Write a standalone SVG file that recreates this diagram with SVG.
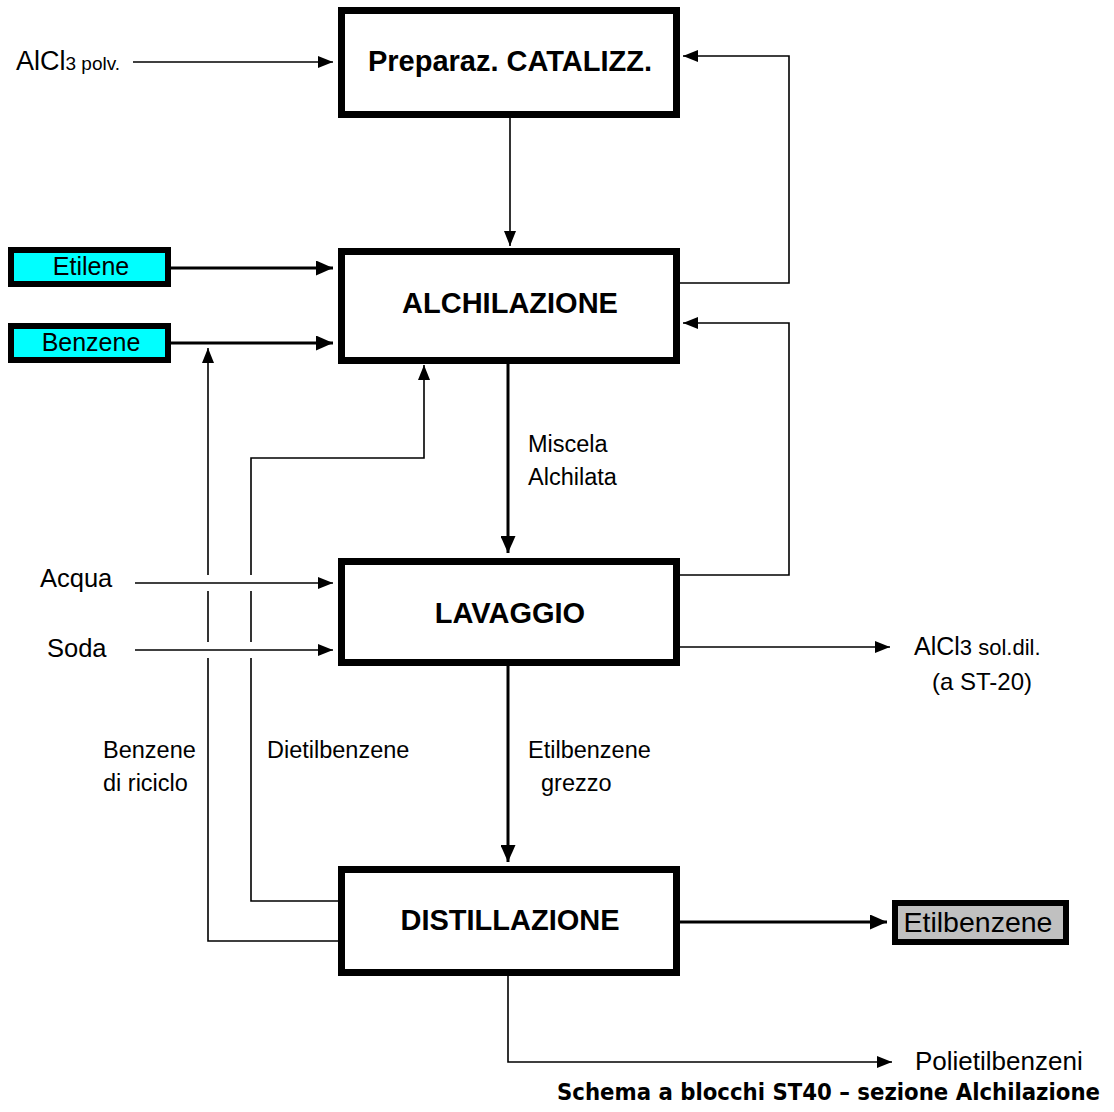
<svg xmlns="http://www.w3.org/2000/svg" width="1114" height="1112" viewBox="0 0 1114 1112">
<style>
.box{fill:#fff;stroke:#000;stroke-width:7}
.t{font-family:"Liberation Sans",Arial,sans-serif;fill:#000}
.b{font-family:"Liberation Sans",Arial,sans-serif;font-weight:bold;font-size:29px;fill:#000}
.thin{fill:none;stroke:#000;stroke-width:1.6}
.thick{fill:none;stroke:#000;stroke-width:3}
</style>
<defs>
<marker id="ah" markerUnits="userSpaceOnUse" markerWidth="16" markerHeight="12" refX="15" refY="6" orient="auto" viewBox="0 0 16 12">
<path d="M0,0 L15,6 L0,12 z" fill="#000"/>
</marker>
<marker id="ahb" markerUnits="userSpaceOnUse" markerWidth="18" markerHeight="15" refX="17" refY="7.5" orient="auto" viewBox="0 0 18 15">
<path d="M0,0 L17,7.5 L0,15 z" fill="#000"/>
</marker>
</defs>
<rect width="1114" height="1112" fill="#fff"/>

<g id="connectors">
<path class="thin" d="M133,62 H333" marker-end="url(#ah)"/>
<path class="thin" d="M510,118 V246" marker-end="url(#ah)"/>
<path class="thin" d="M680,283 H789 V56 H683" marker-end="url(#ah)"/>
<path class="thin" d="M680,575 H789 V323 H683" marker-end="url(#ah)"/>
<path class="thick" d="M171,268 H333" marker-end="url(#ahb)"/>
<path class="thick" d="M171,343 H333" marker-end="url(#ahb)"/>
<path class="thin" d="M340,941 H208 V658"/>
<path class="thin" d="M208,642 V591"/>
<path class="thin" d="M208,575 V348" marker-end="url(#ah)"/>
<path class="thin" d="M340,901 H251 V658"/>
<path class="thin" d="M251,642 V591"/>
<path class="thin" d="M251,575 V458 H424 V365" marker-end="url(#ah)"/>
<path class="thick" d="M508,364 V553" marker-end="url(#ahb)"/>
<path class="thin" d="M135,583 H333" marker-end="url(#ah)"/>
<path class="thin" d="M135,650 H333" marker-end="url(#ah)"/>
<path class="thin" d="M680,647 H890" marker-end="url(#ah)"/>
<path class="thick" d="M508,666 V862" marker-end="url(#ahb)"/>
<path class="thick" d="M680,922 H887" marker-end="url(#ahb)"/>
<path class="thin" d="M508,976 V1062 H892" marker-end="url(#ah)"/>
</g>

<g id="n-preparaz">
<rect class="box" x="341.5" y="10.5" width="335" height="104"/>
<text class="b" x="510" y="71" text-anchor="middle">Preparaz. CATALIZZ.</text>
</g>
<g id="n-alchilazione">
<rect class="box" x="341.5" y="251.5" width="335" height="109"/>
<text class="b" x="510" y="313" text-anchor="middle">ALCHILAZIONE</text>
</g>
<g id="n-lavaggio">
<rect class="box" x="341.5" y="561.5" width="335" height="101"/>
<text class="b" x="510" y="623" text-anchor="middle">LAVAGGIO</text>
</g>
<g id="n-distillazione">
<rect class="box" x="341.5" y="869.5" width="335" height="103"/>
<text class="b" x="510" y="930" text-anchor="middle">DISTILLAZIONE</text>
</g>
<g id="n-etilene">
<rect x="11" y="250" width="157" height="34" fill="#00FFFF" stroke="#000" stroke-width="6"/>
<text class="t" x="91" y="275" font-size="25" text-anchor="middle">Etilene</text>
</g>
<g id="n-benzene">
<rect x="11" y="326" width="157" height="34" fill="#00FFFF" stroke="#000" stroke-width="6"/>
<text class="t" x="91" y="351" font-size="25" text-anchor="middle">Benzene</text>
</g>
<g id="n-etilbenzene">
<rect x="895" y="903" width="171" height="39" fill="#C0C0C0" stroke="#000" stroke-width="6"/>
<text class="t" x="978" y="932" font-size="28.5" text-anchor="middle">Etilbenzene</text>
</g>

<g id="labels">
<text class="t" x="16" y="70" font-size="27">AlCl<tspan font-size="19">3 polv.</tspan></text>
<text class="t" x="528" y="452" font-size="23.5">Miscela</text>
<text class="t" x="528" y="485" font-size="23.5">Alchilata</text>
<text class="t" x="40" y="587" font-size="25.5">Acqua</text>
<text class="t" x="47" y="657" font-size="25.5">Soda</text>
<text class="t" x="914" y="655" font-size="25">AlCl<tspan font-size="22">3 sol.dil.</tspan></text>
<text class="t" x="932" y="690" font-size="24">(a ST-20)</text>
<text class="t" x="103" y="758" font-size="23.5">Benzene</text>
<text class="t" x="103" y="791" font-size="23.5">di riciclo</text>
<text class="t" x="267" y="758" font-size="23.5">Dietilbenzene</text>
<text class="t" x="528" y="758" font-size="23.5">Etilbenzene</text>
<text class="t" x="541" y="791" font-size="23.5">grezzo</text>
<text class="t" x="915" y="1070" font-size="26">Polietilbenzeni</text>
<text x="557" y="1100" font-family="'DejaVu Sans Condensed','DejaVu Sans',Verdana,sans-serif" font-weight="bold" font-size="23" textLength="543" lengthAdjust="spacingAndGlyphs">Schema a blocchi ST40 – sezione Alchilazione</text>
</g>
</svg>
